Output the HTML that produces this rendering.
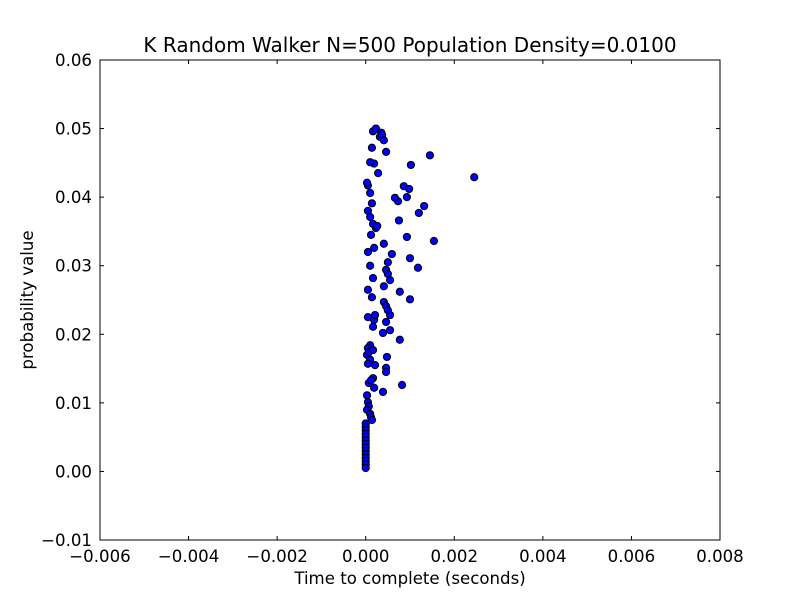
<!DOCTYPE html>
<html><head><meta charset="utf-8"><style>
html,body{margin:0;padding:0;background:#fff;}
svg{display:block;font-family:"DejaVu Sans","Liberation Sans",sans-serif;}
</style></head><body>
<svg id="chart" width="800" height="600"></svg>
<script>
const xValues = [0.000165,0.00023,0.00035,0.00032,0.00037,0.00041,0.00046,0.00014,0.00019,0.00028,0.0001,0.00005,0.00003,0.0001,0.00014,0.00005,0.0001,0.000165,0.00023,0.00026,0.00012,0.00019,0.00005,0.0001,0.000165,0.00005,0.00014,0.00005,0.00019,0.00021,0.000165,0.0001,0.00005,0.00003,0.00007,0.000165,0.0001,0.00005,0.000165,0.00007,0.00012,0.00021,0.00019,0.00003,0.00005,0.00007,0.00003,0.0001,0.00012,0.00014,
0.00145,0.00102,0.00245,0.00086,0.00098,0.00093,0.00073,0.00066,0.00132,0.0012,0.00075,0.00154,0.00093,0.00041,0.001,0.00059,0.00118,0.00077,0.001,0.0005,0.00046,0.0005,0.00055,0.00041,0.00041,0.00046,0.0005,0.00055,0.00055,0.00039,0.00046,0.00077,0.00082,0.00048,0.00046,0.00046,0.00039,
0,0,0,0,0,0,0,0,0,0,0,0,0,0];
const yValues = [0.0496,0.05,0.0494,0.0488,0.0491,0.0483,0.0466,0.0472,0.0449,0.0435,0.0451,0.0417,0.0421,0.0406,0.0391,0.038,0.0371,0.0361,0.0355,0.0358,0.0345,0.0326,0.032,0.03,0.0282,0.0265,0.0254,0.0225,0.0221,0.0228,0.0211,0.0184,0.018,0.017,0.0174,0.0177,0.0163,0.0157,0.0136,0.0129,0.0133,0.0155,0.0122,0.0111,0.0101,0.0095,0.009,0.0084,0.0079,0.0075,
0.0461,0.0447,0.0429,0.0416,0.0412,0.04,0.0394,0.0399,0.0387,0.0377,0.0366,0.0336,0.0342,0.0332,0.0311,0.0317,0.0297,0.0262,0.0251,0.0305,0.0294,0.0288,0.0279,0.027,0.0247,0.0241,0.0235,0.0228,0.0206,0.0202,0.0218,0.0192,0.0126,0.0167,0.0151,0.0145,0.0116,
0.007,0.0065,0.006,0.0055,0.005,0.0045,0.004,0.0035,0.003,0.0025,0.002,0.0015,0.001,0.0005];
const xTicks = [-0.006,-0.004,-0.002,0.000,0.002,0.004,0.006,0.008];
const xTickLabels = ["\u22120.006","\u22120.004","\u22120.002","0.000","0.002","0.004","0.006","0.008"];
const yTicks = [-0.01,0,0.01,0.02,0.03,0.04,0.05,0.06];
const yTickLabels = ["\u22120.01","0.00","0.01","0.02","0.03","0.04","0.05","0.06"];

const L=100,R=720,T=60,B=540,X0=-0.006,X1=0.008,Y0=-0.01,Y1=0.06;
const sx=v=>L+(v-X0)/(X1-X0)*(R-L);
const sy=v=>B-(v-Y0)/(Y1-Y0)*(B-T);
const svg=document.getElementById('chart');
const NS='http://www.w3.org/2000/svg';
function mk(tag,attrs,text){const e=document.createElementNS(NS,tag);for(const k in attrs)e.setAttribute(k,attrs[k]);if(text!==undefined)e.textContent=text;svg.appendChild(e);return e;}

let e;
e=mk('rect',{x:L,y:T,width:R-L,height:B-T,fill:'#fff',stroke:'none'});



for(let i=0;i<xValues.length;i++){
  e=mk('circle',{cx:sx(xValues[i]),cy:sy(yValues[i]),r:3.6,fill:'#0000ff',stroke:'#000','stroke-width':1});
  
  
}

e=mk('rect',{x:L,y:T,width:R-L,height:B-T,fill:'none',stroke:'#000','stroke-width':1});



xTicks.forEach((v,i)=>{
  const x=sx(v);
  e=mk('line',{x1:x,y1:B,x2:x,y2:B-4,stroke:'#000'});
  
  
  e=mk('line',{x1:x,y1:T,x2:x,y2:T+4,stroke:'#000'});
  
  
  e=mk('text',{x:x,y:B+22,'text-anchor':'middle','font-size':16.6},xTickLabels[i]);
  
  
});
yTicks.forEach((v,i)=>{
  const y=sy(v);
  e=mk('line',{x1:L,y1:y,x2:L+4,y2:y,stroke:'#000'});
  
  
  e=mk('line',{x1:R,y1:y,x2:R-4,y2:y,stroke:'#000'});
  
  
  e=mk('text',{x:L-8,y:y+6,'text-anchor':'end','font-size':16.6},yTickLabels[i]);
  
  
});

e=mk('text',{x:410,y:52,'text-anchor':'middle','font-size':20},'K Random Walker N=500 Population Density=0.0100');


e=mk('text',{x:410,y:584,'text-anchor':'middle','font-size':16.6},'Time to complete (seconds)');


e=mk('text',{x:33,y:300,'text-anchor':'middle','font-size':16.6,transform:'rotate(-90 33 300)'},'probability value');


</script>
</body></html>
